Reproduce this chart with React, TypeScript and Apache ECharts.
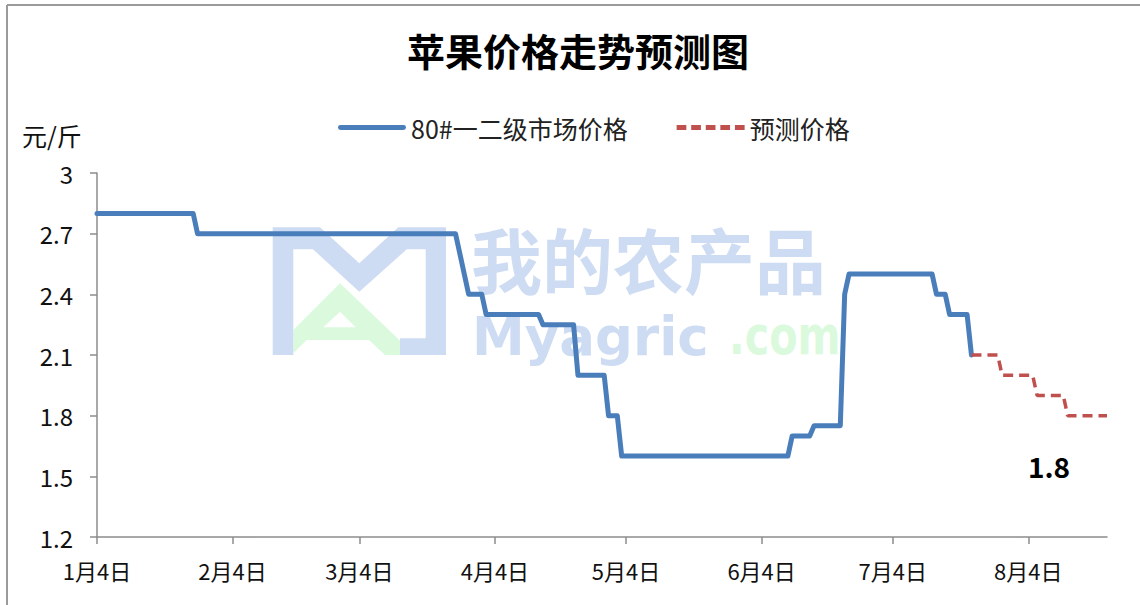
import React, { useEffect, useRef } from 'react';
import * as echarts from 'echarts';

const FONT = '"Noto Sans CJK SC", "Noto Sans", sans-serif';
const WM_FONT = '"DejaVu Sans", "Noto Sans", sans-serif';

const titleText = '苹果价格走势预测图';
const unitText = '元/斤';
const seriesNames = ['80#一二级市场价格', '预测价格'];

// market price (step points)
const marketDates = ['1月4日', '1月26日', '1月27日', '3月26日', '3月29日', '4月1日', '4月2日', '4月14日', '4月15日', '4月22日', '4月23日', '4月29日', '4月30日', '5月2日', '5月3日', '6月10日', '6月11日', '6月15日', '6月16日', '6月22日', '6月23日', '6月24日', '7月13日', '7月14日', '7月16日', '7月17日', '7月21日', '7月22日'];
const marketValues = [2.8, 2.8, 2.7, 2.7, 2.4, 2.4, 2.3, 2.3, 2.25, 2.25, 2.0, 2.0, 1.8, 1.8, 1.6, 1.6, 1.7, 1.7, 1.75, 1.75, 2.4, 2.5, 2.5, 2.4, 2.4, 2.3, 2.3, 2.1];

// forecast
const forecastDates = ['7月22日', '7月28日', '7月29日', '8月5日', '8月6日', '8月12日', '8月13日', '8月22日'];
const forecastValues = [2.1, 2.1, 2.0, 2.0, 1.9, 1.9, 1.8, 1.8];

const annotationText = '1.8';
const yMin = 1.2;
const yMax = 3;
const yStep = 0.3;

// daily category axis from 1月4日 to 8月22日
function buildDays(): string[] {
  const out: string[] = [];
  const d = new Date(2016, 0, 4);
  const end = new Date(2016, 7, 22);
  while (d <= end) {
    out.push(`${d.getMonth() + 1}月${d.getDate()}日`);
    d.setDate(d.getDate() + 1);
  }
  return out;
}
const days = buildDays();
const isTickDay = (_i: number, v: string) => /月4日$/.test(v);

const WM_BLUE = '#cddcf3';
const WM_GREEN = '#dbfadd';
const BLUE = '#4a7ebb';
const RED = '#c0504d';

const SOLID_ICON = 'path://M2,0h64a2,2 0 0 1 0,5h-64a2,2 0 0 1 0,-5z';
const DASH_ICON = 'path://M0,0h10v5h-10zM15,0h10v5h-10zM30,0h10v5h-10zM45,0h10v5h-10zM60,0h10v5h-10z';

export default function App() {
  const ref = useRef<HTMLDivElement>(null);
  useEffect(() => {
    if (!ref.current) return;
    const chart = echarts.init(ref.current, null, { renderer: 'svg' });
    const axisGray = '#8c8c8c';
    chart.setOption({
      animation: false,
      backgroundColor: '#ffffff',
      textStyle: { fontFamily: FONT },
      title: {
        text: titleText,
        left: 402,
        top: 25,
        textStyle: { fontFamily: FONT, fontSize: 38, fontWeight: 'bold', color: '#000' },
      },
      legend: {
        left: 333,
        top: 110,
        itemWidth: 68,
        itemHeight: 5,
        itemGap: 49,
        textStyle: { fontFamily: FONT, fontSize: 25, color: '#222' },
        data: [
          { name: seriesNames[0], icon: SOLID_ICON, itemStyle: { color: BLUE } },
          { name: seriesNames[1], icon: DASH_ICON, itemStyle: { color: RED } },
        ],
      },
      grid: { left: 97, right: 33, top: 173, bottom: 68, containLabel: false },
      xAxis: {
        type: 'category',
        data: days,
        boundaryGap: false,
        axisLine: { lineStyle: { color: axisGray, width: 1.5 } },
        axisTick: { show: true, interval: isTickDay, length: 7, lineStyle: { color: axisGray, width: 1.5 } },
        axisLabel: { interval: isTickDay, margin: 22, fontSize: 22, color: '#111', fontFamily: FONT },
        splitLine: { show: false },
      },
      yAxis: {
        type: 'value',
        min: yMin,
        max: yMax,
        interval: yStep,
        axisLine: { show: true, lineStyle: { color: axisGray, width: 1.5 } },
        axisTick: { show: true, length: 7, lineStyle: { color: axisGray, width: 1.5 } },
        axisLabel: {
          margin: 24,
          fontSize: 24,
          color: '#111',
          fontFamily: FONT,
          formatter: (v: number) => String(Number(v.toFixed(1))),
        },
        splitLine: { show: false },
      },
      graphic: [
        // frame
        { type: 'line', z: 0, shape: { x1: 7, y1: 5, x2: 1140, y2: 5 }, style: { stroke: '#9a9a9a', lineWidth: 2 } },
        { type: 'line', z: 0, shape: { x1: 7, y1: 5, x2: 7, y2: 605 }, style: { stroke: '#9a9a9a', lineWidth: 2 } },
        // unit
        {
          type: 'text', z: 5, x: 22, y: 135,
          style: { text: unitText, fontFamily: FONT, fontSize: 25, fill: '#111', verticalAlign: 'middle', align: 'left' },
        },
        // watermark logo
        {
          type: 'polygon', z: 0, silent: true,
          shape: { points: [[293.3, 330], [340, 283.3], [415, 355], [385, 355], [369, 340], [306.7, 340], [293.3, 353.3]] },
          style: { fill: WM_GREEN },
        },
        {
          type: 'polygon', z: 0, silent: true,
          shape: { points: [[340, 311.7], [323.3, 327.3], [355.7, 327.3]] },
          style: { fill: '#ffffff' },
        },
        {
          type: 'polygon', z: 0, silent: true,
          shape: {
            points: [[272.7, 227.3], [320, 227.3], [359.3, 263.3], [398.3, 227.3], [446, 227.3], [446, 355], [400, 355], [400, 338.3], [425.7, 338.3], [425.7, 249.3], [406.7, 249.3], [359.3, 291.7], [313, 249.3], [293.3, 249.3], [293.3, 355], [272.7, 355]],
          },
          style: { fill: WM_BLUE },
        },
        {
          type: 'text', z: 0, silent: true, x: 471, y: 257,
          style: { text: '我的农产品', fontFamily: FONT, fontSize: 71, lineHeight: 62, fontWeight: 'bold', fill: WM_BLUE, verticalAlign: 'middle', align: 'left' },
        },
        {
          type: 'text', z: 0, silent: true, x: 472, y: 336,
          style: { text: 'Myagric', fontFamily: WM_FONT, fontSize: 53, lineHeight: 48, fontWeight: 'bold', fill: WM_BLUE, verticalAlign: 'middle', align: 'left' },
        },
        {
          type: 'text', z: 0, silent: true, x: 729, y: 336, scaleX: 0.78,
          style: { text: '.com', fontFamily: WM_FONT, fontSize: 53, lineHeight: 48, fontWeight: 'bold', fill: WM_GREEN, verticalAlign: 'middle', align: 'left' },
        },
        // annotation
        {
          type: 'text', z: 5, x: 1049, y: 466,
          style: { text: annotationText, fontFamily: FONT, fontSize: 28, fontWeight: 'bold', fill: '#000', verticalAlign: 'middle', align: 'center' },
        },
      ],
      series: [
        {
          type: 'line',
          name: seriesNames[0],
          data: marketDates.map((d, i) => [d, marketValues[i]]),
          symbol: 'none',
          z: 3,
          lineStyle: { color: BLUE, width: 5, join: 'round', cap: 'round' },
          itemStyle: { color: BLUE },
        },
        {
          type: 'line',
          name: seriesNames[1],
          data: forecastDates.map((d, i) => [d, forecastValues[i]]),
          symbol: 'none',
          z: 3,
          lineStyle: { color: RED, width: 3.5, type: [10, 6] },
          itemStyle: { color: RED },
        },
      ],
    });
    return () => chart.dispose();
  }, []);
  return (
    <div
      ref={ref}
      style={{ position: 'absolute', left: 0, top: 0, width: 1140, height: 605, background: '#fff' }}
    />
  );
}
